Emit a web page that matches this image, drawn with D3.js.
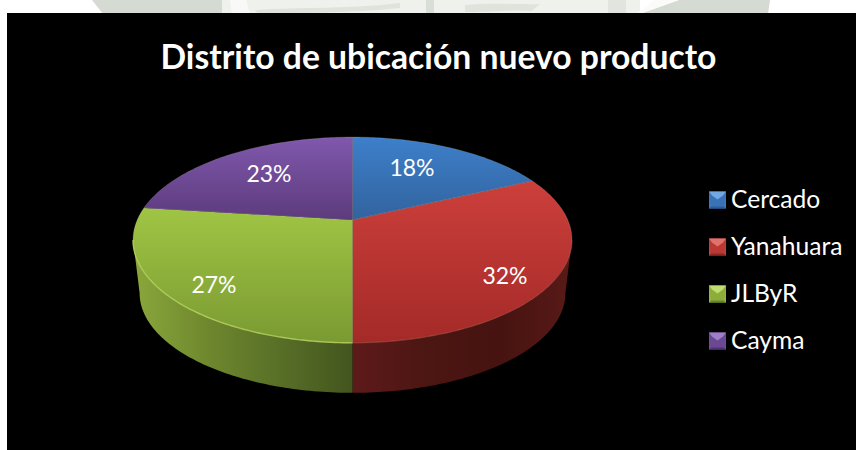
<!DOCTYPE html>
<html lang="es">
<head>
<meta charset="utf-8">
<script src="https://cdn.jsdelivr.net/npm/d3@7/dist/d3.min.js"></script>
<style>
  html, body { margin: 0; padding: 0; background: #fff; }
  svg { display: block; }
  text { font-family: Lato, "Open Sans", sans-serif; fill: #fff; }
</style>
</head>
<body>
<svg id="chart" width="856" height="450"></svg>
<script>
// Chart content
const chartTitle = "Distrito de ubicación nuevo producto";
const districts = ["Cercado", "Yanahuara", "JLByR", "Cayma"];
const shares = [18, 32, 27, 23];

// Vertical gradient of each slice's top face: [upper colour, lower colour]
const topShades = [
  ["#3d7fca", "#32639e"],
  ["#cc3f3b", "#a42a28"],
  ["#a0c544", "#7a9a32"],
  ["#8058ad", "#5c3b7c"]
];
// Horizontal gradient of the outer wall, left to right across each slice's span
const wallShades = [
  ["#2f62a0", "#2f62a0"],
  ["#5e1a1a", "#4c1612", "#461310", "#581a17"],
  ["#8aa83c", "#6f882e", "#586f27", "#43551e"],
  ["#5c3b7c", "#5c3b7c"]
];
const rimShades = ["#5a9ae0", "#c9433e", "#b6d35c", "#9a70c8"];
const rimOpacity = [0.5, 0.25, 0.85, 0.5];
const swatchShades = [
  { top: "#74a8e2", side: "#3f78bf", bottom: "#2c5c97", core: "#3a72b8" },
  { top: "#e0726d", side: "#c23f3b", bottom: "#8f2725", core: "#bb3935" },
  { top: "#c0dd70", side: "#94b53f", bottom: "#6a8529", core: "#8dad3b" },
  { top: "#9f80c8", side: "#6f4c9a", bottom: "#4d3371", core: "#6a4894" }
];

// Layout of the tilted disc
const W = 856, H = 450;
const disc = { cx: 352.5, cy: 220, rx: 215.3, ry: 99, tilt: 0.194 };
const wall = { drop: 53.7, shrink: 0.97 };
const labelAnchors = [[412, 168], [505, 276], [214, 285], [269, 174]];

const svg = d3.select("#chart");
const defs = svg.append("defs");

// Unit-disc scales; the perspective division happens in project()
const xUnit = d3.scaleLinear().domain([-1, 1]).range([-disc.rx, disc.rx]);
const yUnit = d3.scaleLinear().domain([-1, 1]).range([-disc.ry, disc.ry]);

function project(angle, radius = 1, level = 0) {
  const u = radius * Math.sin(angle);
  const v = -radius * Math.cos(angle);
  const w = 1 - disc.tilt * v;
  const s = level ? wall.shrink : 1;
  return [
    disc.cx + s * xUnit(u / w),
    disc.cy + level * wall.drop + s * yUnit(v / w)
  ];
}

const arcSamples = (a0, a1) => {
  const n = Math.max(2, Math.ceil((a1 - a0) * 60));
  return d3.range(n + 1).map(i => a0 + (a1 - a0) * i / n);
};

const line = d3.line().curve(d3.curveLinear);
const slices = d3.pie().sort(null).value(d => d)(shares);

// Background page with the faint crest peeking out above the chart
const page = svg.append("g");
page.append("rect").attr("width", W).attr("height", H).attr("fill", "#fff");
const crest = [
  { d: "M222,0 L640,0 L640,14 L222,14 Z", fill: "#eff1ed" },
  { d: "M92,0 L222,0 L222,14 L103,14 Z", fill: "#d5dbd2" },
  { d: "M679,0 L770,0 L768,14 L639,14 Z", fill: "#d5dbd2" },
  { d: "M640,14 L679,0 L655,0 L636,14 Z", fill: "#fbfbfa" },
  { d: "M255,10 C300,7 350,9 400,3 L400,8 C350,13 300,13 258,14 Z", fill: "#dfe3dc" },
  { d: "M465,5 C490,2 520,5 540,4 L532,11 C510,9 490,13 465,12 Z", fill: "#dfe3dc" },
  { d: "M426,0 L434,0 L434,14 L426,14 Z", fill: "#d9ded6" },
  { d: "M608,0 L626,0 L626,14 L608,14 Z", fill: "#e2e5df" },
  { d: "M230,0 L246,0 L250,14 L232,14 Z", fill: "#f9faf8" }
];
page.selectAll("path").data(crest).join("path")
  .attr("d", d => d.d).attr("fill", d => d.fill);

// Black chart panel
svg.append("rect").attr("x", 7).attr("y", 13)
  .attr("width", W - 7).attr("height", H - 13).attr("fill", "#000");

// The wall only shows between the two silhouette points of the rim
const wallStart = Math.acos(-disc.tilt);
const wallEnd = 2 * Math.PI - wallStart;

// Gradients
topShades.forEach((shades, i) => {
  const g = defs.append("linearGradient").attr("id", `top-${i}`)
    .attr("gradientUnits", "userSpaceOnUse")
    .attr("x1", 0).attr("x2", 0);
  // Each slice shades over its own vertical extent
  const pts = [project(slices[i].startAngle, 0), ...arcSamples(slices[i].startAngle, slices[i].endAngle).map(a => project(a))];
  const [y0, y1] = d3.extent(pts, p => p[1]);
  g.attr("y1", y0).attr("y2", y1);
  shades.forEach((c, k) => g.append("stop").attr("offset", k / (shades.length - 1)).attr("stop-color", c));
});
wallShades.forEach((shades, i) => {
  const a0 = Math.max(slices[i].startAngle, wallStart), a1 = Math.min(slices[i].endAngle, wallEnd);
  const g = defs.append("linearGradient").attr("id", `wall-${i}`)
    .attr("gradientUnits", "userSpaceOnUse").attr("y1", 0).attr("y2", 0);
  if (a1 > a0) {
    const xs = [project(a0)[0], project(a1)[0]];
    g.attr("x1", d3.min(xs)).attr("x2", d3.max(xs));
  }
  shades.forEach((c, k) => g.append("stop").attr("offset", k / (shades.length - 1)).attr("stop-color", c));
});

// Outer wall, limited to the part of the rim that faces the viewer
const walls = svg.append("g");
slices.forEach((s, i) => {
  const a0 = Math.max(s.startAngle, wallStart);
  const a1 = Math.min(s.endAngle, wallEnd);
  if (a1 <= a0) return;
  const samples = arcSamples(a0, a1);
  const outline = [
    ...samples.map(a => project(a)),
    ...samples.slice().reverse().map(a => project(a, 1, 1))
  ];
  walls.append("path").attr("d", line(outline) + "Z")
    .attr("fill", `url(#wall-${i})`);
});

// Top faces
const faces = svg.append("g");
slices.forEach((s, i) => {
  const outline = [project(s.startAngle, 0), ...arcSamples(s.startAngle, s.endAngle).map(a => project(a))];
  faces.append("path").attr("d", line(outline) + "Z")
    .attr("fill", `url(#top-${i})`)
    .attr("stroke", "#c9c9b8").attr("stroke-opacity", 0.28).attr("stroke-width", 0.7);
});

// Bevel highlight along the front rim
slices.forEach((s, i) => {
  const a0 = Math.max(s.startAngle, wallStart);
  const a1 = Math.min(s.endAngle, wallEnd);
  if (a1 <= a0) return;
  faces.append("path").attr("d", line(arcSamples(a0, a1).map(a => project(a))))
    .attr("fill", "none").attr("stroke", rimShades[i])
    .attr("stroke-width", 1.4).attr("stroke-opacity", rimOpacity[i]);
});

// Percentage labels
svg.append("g").selectAll("text").data(shares).join("text")
  .attr("x", (d, i) => labelAnchors[i][0])
  .attr("y", (d, i) => labelAnchors[i][1] + 8)
  .attr("text-anchor", "middle")
  .attr("font-size", 23)
  .text(d => `${d}%`);

// Title
svg.append("text").attr("x", 438.5).attr("y", 69)
  .attr("text-anchor", "middle")
  .attr("font-size", 33.7).attr("font-weight", 700)
  .text(chartTitle);

// Legend with bevelled square keys
const legendY = d3.scalePoint().domain(districts).range([200, 341]);
const keySize = 17, keyX = 709, inset = 5;
const legend = svg.append("g").selectAll("g").data(districts).join("g")
  .attr("transform", d => `translate(${keyX},${legendY(d) - keySize / 2})`);
legend.each(function (d, i) {
  const g = d3.select(this), c = swatchShades[i], k = keySize;
  const tip = [k / 2, inset + 3];
  g.append("rect").attr("width", k).attr("height", k).attr("fill", c.core);
  g.append("path").attr("d", line([[0, 0], [k, 0], [k - inset + 2, inset - 1], tip, [inset - 2, inset - 1]]) + "Z").attr("fill", c.top);
  g.append("path").attr("d", line([[0, k], [k, k], [k - 2, k - 2], [2, k - 2]]) + "Z").attr("fill", c.bottom);
  g.append("path").attr("d", line([[0, 0], [2, k - 2], [0, k]]) + "Z").attr("fill", c.side);
  g.append("path").attr("d", line([[k, 0], [k - 2, k - 2], [k, k]]) + "Z").attr("fill", c.side);
});
legend.append("text")
  .attr("x", keySize + 5).attr("y", keySize / 2 + 8)
  .attr("font-size", 24.6)
  .text(d => d);
</script>
</body>
</html>
